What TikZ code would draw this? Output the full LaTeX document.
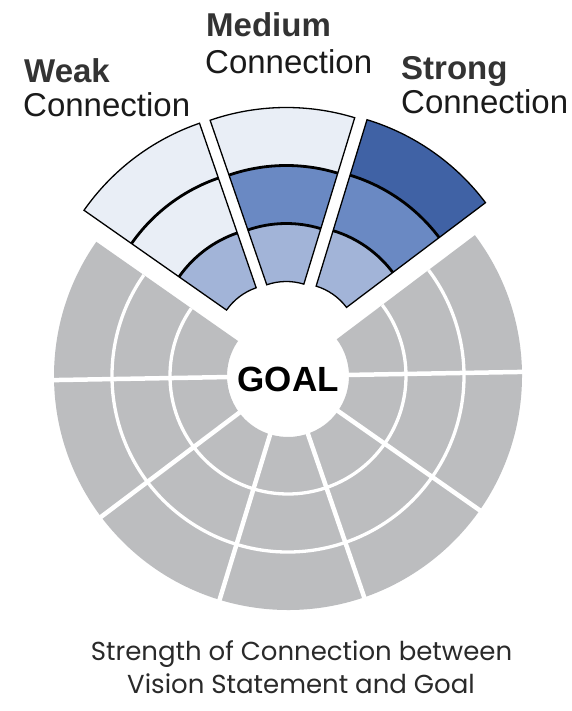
\documentclass[tikz,border=0pt]{standalone}
\usepackage{fontspec}
\setmainfont{Liberation Sans}
\newfontfamily\capfont{Poppins}
\definecolor{grayfill}{HTML}{BCBDBF}
\definecolor{lightc}{HTML}{E9EEF6}
\definecolor{innerc}{HTML}{A2B4D8}
\definecolor{midc}{HTML}{6A89C3}
\definecolor{darkc}{HTML}{4062A5}
\definecolor{boldtxt}{HTML}{333333}
\definecolor{regtxt}{HTML}{1A1A1A}
\definecolor{captxt}{HTML}{2A2A2A}
\newcommand{\ringpart}[5]{% a1 a2 r1 r2 colour
  \fill[#5] (#1:#3) arc[start angle=#1,end angle=#2,radius=#3] -- (#2:#4) arc[start angle=#2,end angle=#1,radius=#4] -- cycle;}
\newcommand{\expslice}[6]{% #1 centre, #2 a1, #3 a2, #4 inner, #5 middle, #6 outer colour
  \begin{scope}[shift={#1}]
    \ringpart{#2}{#3}{60}{118}{#4}
    \ringpart{#2}{#3}{118}{176}{#5}
    \ringpart{#2}{#3}{176}{234}{#6}
    \draw[ringline] (#2:118) arc[start angle=#2,end angle=#3,radius=118];
    \draw[ringline] (#2:176) arc[start angle=#2,end angle=#3,radius=176];
    \draw[sliceedge] (#2:60) arc[start angle=#2,end angle=#3,radius=60] -- (#3:234) arc[start angle=#3,end angle=#2,radius=234] -- cycle;
  \end{scope}}
\tikzset{
  ringline/.style={black,line width=2.8pt},
  sliceedge/.style={black,line width=1.3pt,line join=miter},
  whitering/.style={white,line width=3.3pt},
  whitespoke/.style={white,line width=4.5pt},
  lblB/.style={anchor=base west,inner sep=0pt,text=boldtxt,font=\bfseries\fontsize{33}{36}\selectfont},
  lblC/.style={anchor=base west,inner sep=0pt,text=regtxt,font=\fontsize{33}{38}\selectfont},
  captxtstyle/.style={anchor=base,inner sep=0pt,text=captxt,font=\capfont\fontsize{26}{30}\selectfont},
}
\begin{document}
\begin{tikzpicture}[x=1pt,y=1pt]
\useasboundingbox (0,0) rectangle (572,-711);
\fill[white] (0,0) rectangle (572,-711);
% grey part of the wheel
\coordinate (C) at (288,-376);
\begin{scope}[shift={(C)}]
  \ringpart{145}{397}{61}{234}{grayfill}
  \draw[whitering] (145:118) arc[start angle=145,end angle=397,radius=118];
  \draw[whitering] (145:176) arc[start angle=145,end angle=397,radius=176];
  \foreach \a in {181,217,253,289,325,361} \draw[whitespoke] (\a:55) -- (\a:240);
\end{scope}
% exploded slices
\expslice{(275.7,-344.5)}{109}{145}{innerc}{lightc}{lightc}
\expslice{(286.3,-341.5)}{73}{109}{innerc}{midc}{lightc}
\expslice{(298.6,-343.5)}{37}{73}{innerc}{midc}{darkc}
% centre
\node[anchor=base,inner sep=0pt,font=\bfseries\fontsize{35}{40}\selectfont] (goal) at (288.3,-391.7) {GOAL};
% labels
\node[lblB] (weakB) at (24,-83) {Weak};
\node[lblC] (weakC) at (23,-117) {Connection};
\node[lblB] (medB) at (206,-37) {Medium};
\node[lblC] (medC) at (205,-74) {Connection};
\node[lblB] (strB) at (401,-80) {Strong};
\node[lblC] (strC) at (401,-114) {Connection};
% caption
\node[captxtstyle] (cap1) at (301.5,-660) {Strength of Connection between};
\node[captxtstyle] (cap2) at (301,-693.3) {Vision Statement and Goal};
\end{tikzpicture}
\end{document}
